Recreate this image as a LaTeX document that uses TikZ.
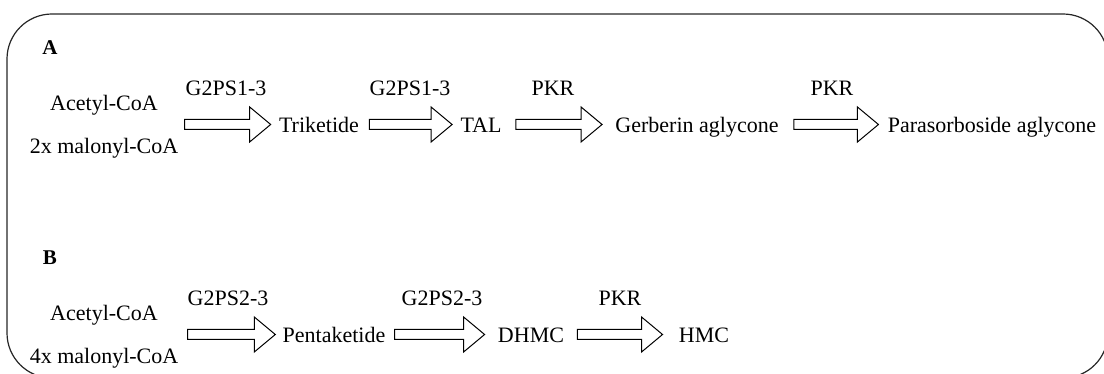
\documentclass[tikz,border=0pt]{standalone}
\usepackage{fontspec}
\setmainfont{Liberation Serif}
\usetikzlibrary{calc}

\newcommand{\blockarrow}[2]{%
  \draw[blockline] let \p1=(#1), \p2=(#2) in
    (\x1,{\y2+2.5pt}) -- ({\x2-10.5pt},{\y2+2.5pt}) -- ({\x2-10.5pt},{\y2+8.75pt}) -- (\x2,\y2)
    -- ({\x2-10.5pt},{\y2-8.75pt}) -- ({\x2-10.5pt},{\y2-2.5pt}) -- (\x1,{\y2-2.5pt}) -- cycle;}

\begin{document}
\begin{tikzpicture}[
  x=0.5pt,
  y=0.5pt,
  chem/.style={inner sep=0pt, text height=8.5pt, text depth=0pt, font=\fontsize{11}{13}\selectfont},
  substrate/.style={inner sep=0pt, align=center, font=\fontsize{11}{21.5}\selectfont},
  enzyme/.style={inner sep=0pt, font=\fontsize{11}{13}\selectfont},
  panel/.style={inner sep=0pt, font=\fontsize{10.5}{12}\selectfont\bfseries},
  frame/.style={draw=black!85, line width=0.6pt, rounded corners=22.5pt},
  blockline/.style={draw=black, line width=0.5pt, fill=white, line join=miter}
]
\useasboundingbox (0,0) rectangle (1104,374);
\begin{scope}
  \clip (0,0) rectangle (1104,374);
  \draw[frame] (7,360) rectangle (1108,-4);
\end{scope}

\node[panel] (labA) at (50,326) {A};
\node[substrate] (subA) at (104,247.6) {Acetyl-CoA\\2x malonyl-CoA};
\node[chem] (tri) at (319,249.5) {Triketide};
\node[chem] (tal) at (481,249.5) {TAL};
\node[chem] (gerb) at (697,249.5) {Gerberin aglycone};
\node[chem] (para) at (992,249.5) {Parasorboside aglycone};

\node[enzyme] (enzA1) at (226,286) {G2PS1-3};
\node[enzyme] (enzA2) at (410,286) {G2PS1-3};
\node[enzyme] (enzA3) at (553,286) {PKR};
\node[enzyme] (enzA4) at (832,286) {PKR};

\blockarrow{$(subA.east)+(6,0)$}{$(tri.west)+(-8,0)$}
\blockarrow{$(tri.east)+(10,0)$}{$(tal.west)+(-8,0)$}
\blockarrow{$(tal.east)+(14,0)$}{$(gerb.west)+(-13,0)$}
\blockarrow{$(gerb.east)+(15,0)$}{$(para.west)+(-9,0)$}

\node[panel] (labB) at (50,116) {B};
\node[substrate] (subB) at (104,37.6) {Acetyl-CoA\\4x malonyl-CoA};
\node[chem] (pent) at (334,39.5) {Pentaketide};
\node[chem] (dhmc) at (531,39.5) {DHMC};
\node[chem] (hmc) at (704,39.5) {HMC};

\node[enzyme] (enzB1) at (228,76) {G2PS2-3};
\node[enzyme] (enzB2) at (442,76) {G2PS2-3};
\node[enzyme] (enzB3) at (620,76) {PKR};

\blockarrow{$(subB.east)+(9,0)$}{$(pent.west)+(-7,0)$}
\blockarrow{$(pent.east)+(9,0)$}{$(dhmc.west)+(-13,0)$}
\blockarrow{$(dhmc.east)+(13,0)$}{$(hmc.west)+(-16,0)$}
\end{tikzpicture}
\end{document}
